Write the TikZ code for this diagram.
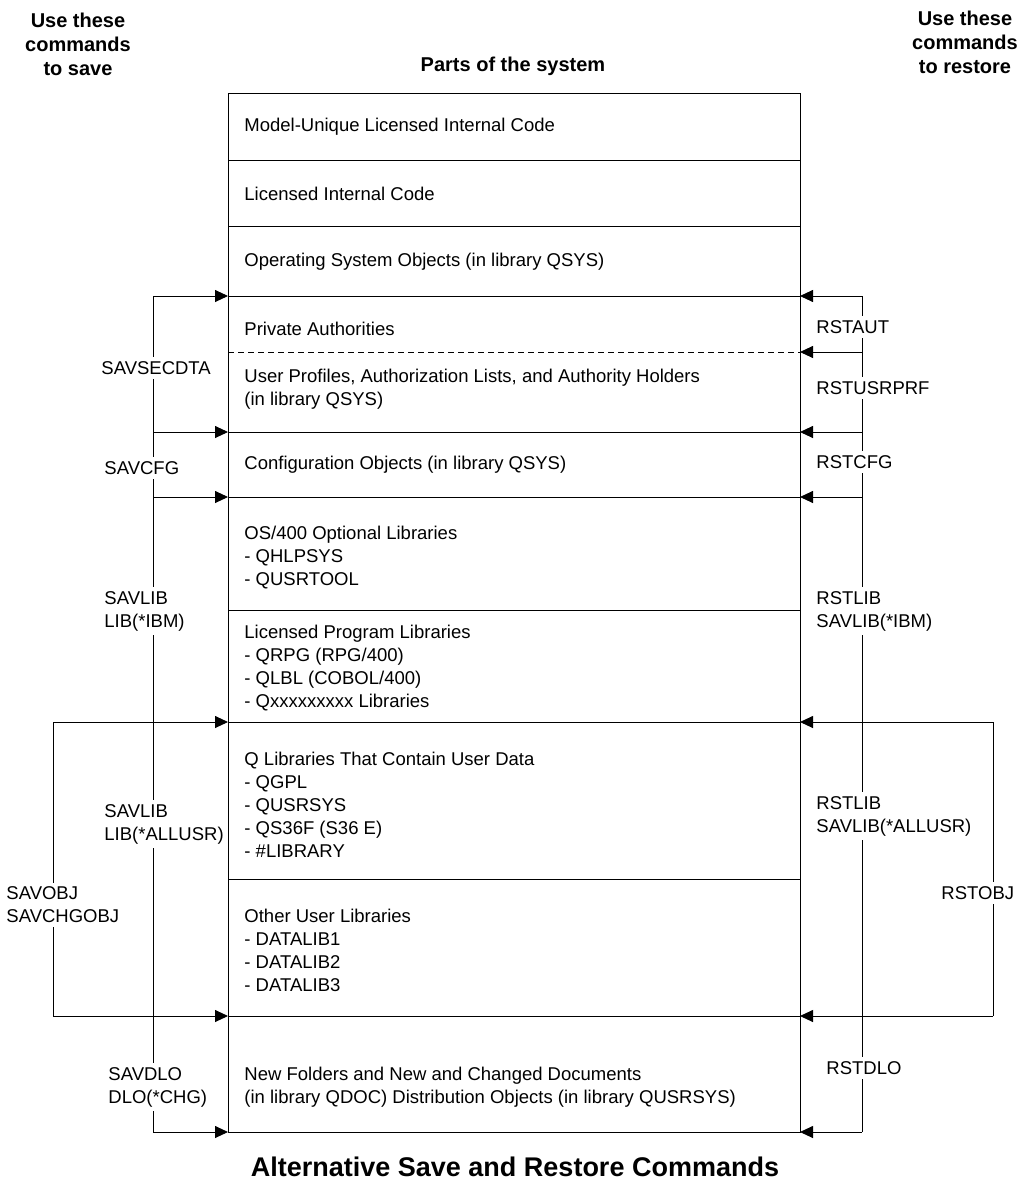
\documentclass[tikz,border=0pt]{standalone}
\usepackage{fontspec}
\setmainfont{Liberation Sans}
\usetikzlibrary{arrows.meta}

\begin{document}
\begin{tikzpicture}[x=1pt, y=-1pt, line width=0.9pt,
    part/.style={anchor=west, align=left, inner sep=0pt,
                 font=\fontsize{18.5}{23}\selectfont},
    savcmd/.style={anchor=west, align=left, fill=white, inner xsep=1pt,
                   inner ysep=4pt, font=\fontsize{18.5}{23}\selectfont},
    head/.style={align=center, font=\fontsize{20}{24}\selectfont\bfseries},
    arr/.style={-{Triangle[length=13pt, width=12pt]}}
  ]
    \useasboundingbox (0,0) rectangle (1034,1186);

    % Levels of the box: left and right edge points
    \foreach \n/\y in {0/93, 1/160, 2/226, 3/296, d/352, 4/432, 5/497,
                       6/610, 7/722, 8/879, 9/1016, 10/1132} {
      \coordinate (l\n) at (228,\y);
      \coordinate (r\n) at (800,\y);
    }

    % Parts of the system
    \draw (l0) rectangle (r10);
    \foreach \n in {1,2,3,4,5,6,7,8,9} \draw (l\n) -- (r\n);
    \draw[dashed, dash pattern=on 6pt off 4pt, line width=0.6pt] (ld) -- (rd);

    \node[part] (mulic) at (244,127)  {Model-Unique Licensed Internal Code};
    \node[part] (lic)   at (244,194)  {Licensed Internal Code};
    \node[part] (osobj) at (244,262)  {Operating System Objects (in library QSYS)};
    \node[part] (paut)  at (244,329)  {Private Authorities};
    \node[part] (uprf)  at (244,389)  {User Profiles, Authorization Lists, and Authority Holders\\(in library QSYS)};
    \node[part] (cfg)   at (244,465)  {Configuration Objects (in library QSYS)};
    \node[part] (oslib) at (244,558)  {OS/400 Optional Libraries\\- QHLPSYS\\- QUSRTOOL};
    \node[part] (lplib) at (244,668)  {Licensed Program Libraries\\- QRPG (RPG/400)\\- QLBL (COBOL/400)\\- Qxxxxxxxxx Libraries};
    \node[part] (qlib)  at (244,805)  {Q Libraries That Contain User Data\\- QGPL\\- QUSRSYS\\- QS36F (S36 E)\\- \#LIBRARY};
    \node[part] (ulib)  at (244,950)  {Other User Libraries\\- DATALIB1\\- DATALIB2\\- DATALIB3};
    \node[part] (dlo)   at (244,1087) {New Folders and New and Changed Documents\\(in library QDOC) Distribution Objects (in library QUSRSYS)};

    % Save commands
    \foreach \n in {3,4,5,10} \coordinate (sv\n) at (153,0 |- l\n);
    \draw (sv3) -- (sv10);
    \foreach \n in {3,4,5,10} \draw[arr] (sv\n) -- (l\n);
    \coordinate (ob7) at (53,0 |- l7);
    \coordinate (ob9) at (53,0 |- l9);
    \draw[arr] (ob7) -- (l7);
    \draw (ob7) -- (ob9);
    \draw[arr] (ob9) -- (l9);

    % Restore commands
    \foreach \n in {3,d,4,5,10} \coordinate (rs\n) at (862,0 |- r\n);
    \draw (rs3) -- (rs10);
    \foreach \n in {3,d,4,5,10} \draw[arr] (rs\n) -- (r\n);
    \coordinate (ro7) at (993,0 |- r7);
    \coordinate (ro9) at (993,0 |- r9);
    \draw[arr] (ro7) -- (r7);
    \draw (ro7) -- (ro9);
    \draw[arr] (ro9) -- (r9);

    % Command labels
    \node[savcmd] (savsec) at (100,368)  {SAVSECDTA};
    \node[savcmd] (savcfg) at (103,468)  {SAVCFG};
    \node[savcmd] (savibm) at (103,611)  {SAVLIB\\LIB(*IBM)};
    \node[savcmd] (savusr) at (103,824)  {SAVLIB\\LIB(*ALLUSR)};
    \node[savcmd] (savobj) at (5,905)    {SAVOBJ\\SAVCHGOBJ};
    \node[savcmd] (savdlo) at (107,1087) {SAVDLO\\DLO(*CHG)};

    \node[savcmd] (rstaut) at (815,327)  {RSTAUT};
    \node[savcmd] (rstprf) at (815,388)  {RSTUSRPRF};
    \node[savcmd] (rstcfg) at (815,462)  {RSTCFG};
    \node[savcmd] (rstibm) at (815,611)  {RSTLIB\\SAVLIB(*IBM)};
    \node[savcmd] (rstusr) at (815,816)  {RSTLIB\\SAVLIB(*ALLUSR)};
    \node[savcmd] (rstobj) at (940,893)  {RSTOBJ};
    \node[savcmd] (rstdlo) at (825,1068) {RSTDLO};

    % Headings
    \node[head] (hsave) at (78,44)  {Use these\\commands\\to save};
    \node[head] (hrst)  at (965,42) {Use these\\commands\\to restore};
    \node[head] (hpart) at (513,66) {Parts of the system};
    \node[font=\fontsize{27}{32}\selectfont\bfseries] (title) at (515,1167)
      {Alternative Save and Restore Commands};
\end{tikzpicture}
\end{document}
